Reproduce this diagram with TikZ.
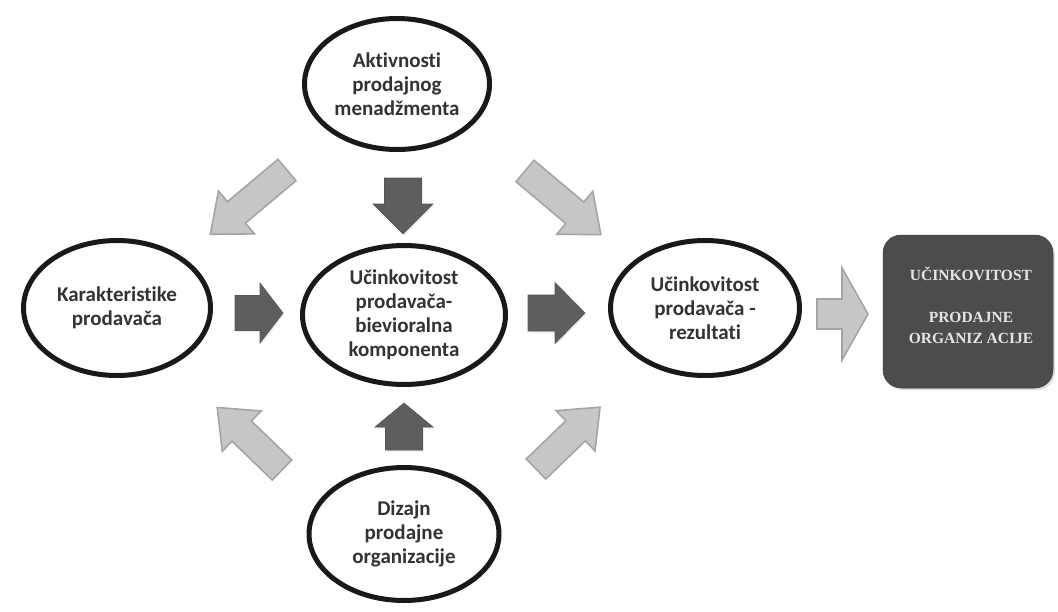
\documentclass[tikz,border=0pt]{standalone}
\usepackage{fontspec}
\setmainfont{Carlito}[Ligatures=NoCommon]
\newfontfamily\boxfont{Liberation Serif}
\usetikzlibrary{shapes.geometric,shadows,calc}
\definecolor{darkarr}{HTML}{5E5E5E}
\definecolor{lightarr}{HTML}{C6C6C6}
\definecolor{lightedge}{HTML}{A4A4A4}
\definecolor{boxgray}{HTML}{4C4C4C}
\definecolor{inktext}{HTML}{333333}
\newcommand\blockarrow[7]{% style, tail, angle, length, shaft, head, headlen
  \draw[#1, shift={#2}, rotate=#3] (0,{-#5/2}) -- ({#4-#7},{-#5/2}) -- ({#4-#7},{-#6/2}) -- (#4,0)
    -- ({#4-#7},{#6/2}) -- ({#4-#7},{#5/2}) -- (0,{#5/2}) -- cycle;}
\begin{document}
\begin{tikzpicture}[x=1pt,y=-1pt,
  oval/.style={ellipse, draw=black!90, line width=5pt, fill=white, inner sep=0pt, align=center,
    text=inktext, font=\bfseries\fontsize{21}{24}\selectfont,
    drop shadow={opacity=0.18, shadow xshift=2pt, shadow yshift=-2pt}},
  darkstyle/.style={fill=darkarr, draw=darkarr!90!black, line width=0.6pt,
    drop shadow={opacity=0.15, shadow xshift=1.5pt, shadow yshift=-1.5pt}},
  lightstyle/.style={fill=lightarr, draw=lightedge, line width=1.6pt, line join=miter},
  orgbox/.style={rounded corners=18pt, fill=boxgray, draw=boxgray!80!black, line width=0.5pt,
    drop shadow={opacity=0.25, shadow xshift=2pt, shadow yshift=-2pt}},
  orgtextstyle/.style={align=center, text=white!90!black,
    font=\boxfont\bfseries\fontsize{15.5}{21}\selectfont}
]
\useasboundingbox (0,0) rectangle (1058,611);
\fill[white] (0,0) rectangle (1058,611);

% ellipses
\node[oval, minimum width=185pt, minimum height=131pt] (akt) at (397,84) {Aktivnosti\\prodajnog\\menadžmenta};
\node[oval, minimum width=187pt, minimum height=135pt] (kar) at (117,308) {Karakteristike\\prodavača};
\node[oval, minimum width=203pt, minimum height=139pt] (beh) at (404,315) {Učinkovitost\\prodavača-\\bievioralna\\komponenta};
\node[oval, minimum width=189pt, minimum height=135pt] (rez) at (705,308) {Učinkovitost\\prodavača -\\rezultati};
\node[oval, minimum width=190pt, minimum height=133pt] (diz) at (404,534) {Dizajn\\prodajne\\organizacije};

% final box
\node[orgbox, minimum width=170pt, minimum height=153pt] (org) at (968,311.5) {};
\node[orgtextstyle] (orgtext) at ($(org.center)+(3,-6)$) {UČINKOVITOST\\[21pt]PRODAJNE\\ORGANIZ ACIJE};

% dark block arrows
\blockarrow{darkstyle}{(235,313)}{0}{48}{35}{60}{23}
\blockarrow{darkstyle}{(528,313)}{0}{57}{36}{61}{30}
\blockarrow{darkstyle}{(403,178)}{-90}{56}{37}{60}{30}
\blockarrow{darkstyle}{(404,450)}{90}{47}{37}{58}{24}

% light block arrows
\blockarrow{lightstyle}{(287,170)}{220}{100}{28}{56}{34}
\blockarrow{lightstyle}{(525,171)}{320}{99}{28}{56}{34}
\blockarrow{lightstyle}{(282,470)}{136}{90}{28}{56}{34}
\blockarrow{lightstyle}{(536,469)}{44}{89}{28}{56}{34}
\blockarrow{lightstyle}{(817,314)}{0}{51}{30}{92}{26}
\end{tikzpicture}
\end{document}
